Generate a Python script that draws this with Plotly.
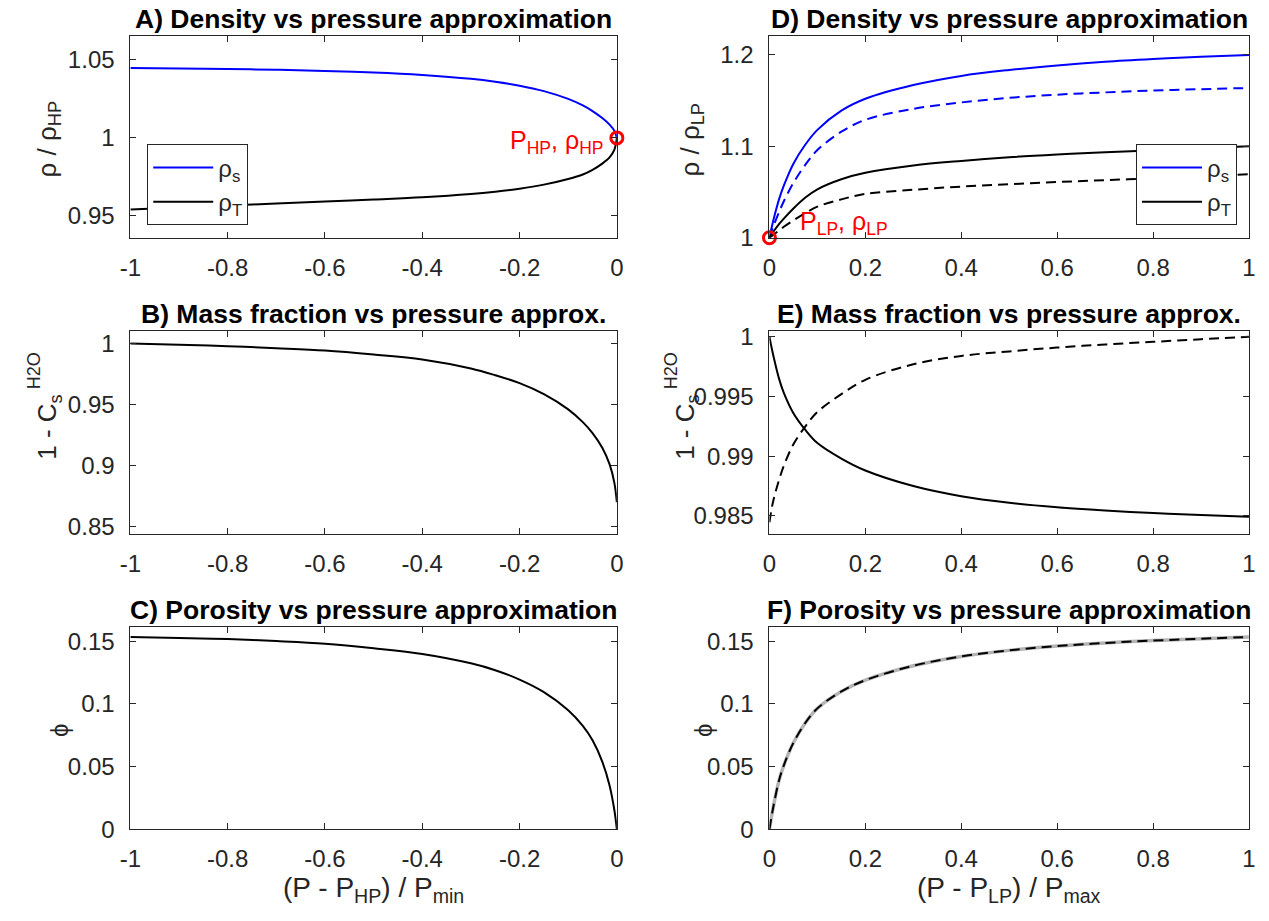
import plotly.graph_objects as go

W, H = 1269, 921
FONT = "Liberation Sans, Arial, sans-serif"
AX = "#262626"

# ---------------- data ----------------
left_x = [-1.0, -0.9, -0.8, -0.7, -0.6, -0.5, -0.4, -0.3, -0.25, -0.2, -0.15, -0.1,
          -0.07, -0.05, -0.03, -0.015, -0.005, 0.0]
A_rho_s = [1.0449, 1.0446, 1.0442, 1.0437, 1.0430, 1.0420, 1.0404, 1.0379, 1.0360,
           1.0335, 1.0300, 1.0250, 1.0208, 1.0172, 1.0127, 1.0085, 1.0045, 1.0]
A_rho_T = [0.9540, 0.9553, 0.9566, 0.9579, 0.9592, 0.9605, 0.9619, 0.9640, 0.9655,
           0.9674, 0.9700, 0.9736, 0.9765, 0.9795, 0.9835, 0.9875, 0.9925, 1.0]
B_mass = [1.0, 0.9990, 0.9978, 0.9962, 0.9943, 0.9910, 0.9869, 0.9795, 0.9740,
          0.9675, 0.9585, 0.9460, 0.9355, 0.9265, 0.9145, 0.9010, 0.8855, 0.8698]
C_phi = [0.1534, 0.1527, 0.1518, 0.1502, 0.1481, 0.1445, 0.1400, 0.1325, 0.1270,
         0.1195, 0.1095, 0.0950, 0.0825, 0.0710, 0.0540, 0.0350, 0.0150, 0.0]

right_x = [0.0, 0.005, 0.01, 0.02, 0.03, 0.05, 0.075, 0.1, 0.15, 0.2, 0.3, 0.4,
           0.5, 0.6, 0.7, 0.8, 0.9, 1.0]
D_rho_s = [1.0, 1.012, 1.023, 1.042, 1.057, 1.081, 1.102, 1.118, 1.139, 1.152, 1.167,
           1.177, 1.1835, 1.1885, 1.1925, 1.1955, 1.198, 1.2]
D_rho_s_approx = [1.0, 1.008, 1.015, 1.028, 1.040, 1.060, 1.080, 1.096, 1.116, 1.129,
                  1.141, 1.148, 1.153, 1.1565, 1.159, 1.161, 1.1625, 1.1638]
D_rho_T = [1.0, 1.004, 1.008, 1.015, 1.021, 1.032, 1.044, 1.053, 1.064, 1.071, 1.079,
           1.084, 1.088, 1.091, 1.0935, 1.0958, 1.098, 1.100]
D_rho_T_approx = [1.0, 1.002, 1.004, 1.008, 1.012, 1.019, 1.027, 1.034, 1.042, 1.048,
                  1.0525, 1.056, 1.0585, 1.061, 1.063, 1.065, 1.0672, 1.0695]
E_mass = [1.0, 0.9990, 0.9981, 0.9965, 0.9953, 0.9936, 0.9922, 0.9911, 0.9898,
          0.9888, 0.9875, 0.98665, 0.9861, 0.98572, 0.98545, 0.98524, 0.98507, 0.98492]
E_mass_approx = [0.98445, 0.9857, 0.9866, 0.9880, 0.9892, 0.9910, 0.9925, 0.9937,
                 0.9952, 0.9964, 0.9977, 0.9984, 0.99878, 0.9991, 0.99936, 0.99958,
                 0.9998, 1.0]
F_phi = [0.0, 0.0115, 0.0215, 0.0390, 0.0510, 0.0690, 0.0850, 0.0965, 0.1100, 0.1190,
         0.1305, 0.1380, 0.1428, 0.1462, 0.1487, 0.1506, 0.1521, 0.1534]

left_ticks = [-1, -0.8, -0.6, -0.4, -0.2, 0]
left_ticktext = ["-1", "-0.8", "-0.6", "-0.4", "-0.2", "0"]
right_ticks = [0, 0.2, 0.4, 0.6, 0.8, 1]
right_ticktext = ["0", "0.2", "0.4", "0.6", "0.8", "1"]

titles = ["A) Density vs pressure approximation",
          "B) Mass fraction vs pressure approx.",
          "C) Porosity vs pressure approximation",
          "D) Density vs pressure approximation",
          "E) Mass fraction vs pressure approx.",
          "F) Porosity vs pressure approximation"]

# ---------------- layout geometry ----------------
# positions are given in target-picture pixels and converted to paper fractions,
# compensating the small offset/scale measured for the rendered page
def px(x):
    return ((x - 2.5) / 0.995) / W

def py(y):
    return 1 - (y / 0.983 - 8.0) / H

col_x = [(123, 614), (768, 1252)]
row_y = [(36, 239), (333, 537), (631, 834)]

fig = go.Figure()

BLUE = "#0000ff"
DASH = "10px,6px"


def add(x, y, axis, color, dash=None, width=2, name=None, legend=None, showlegend=False, group=None):
    fig.add_trace(go.Scatter(
        x=x, y=y, mode="lines", xaxis="x" + axis, yaxis="y" + axis,
        line=dict(color=color, width=width, dash=dash, shape="spline", smoothing=1.0),
        name=name, showlegend=showlegend, legend=legend, legendgroup=group,
        hoverinfo="skip"))

# A
add(left_x, A_rho_s, "", BLUE, name="ρ<sub>s</sub>", legend="legend", showlegend=True, group="a1")
add(left_x, A_rho_T, "", "black", name="ρ<sub>T</sub>", legend="legend", showlegend=True, group="a2")
fig.add_trace(go.Scatter(x=[0], y=[1], mode="markers", xaxis="x", yaxis="y",
                         marker=dict(symbol="circle-open", size=12, color="red",
                                     line=dict(width=3, color="red")),
                         cliponaxis=False, showlegend=False, hoverinfo="skip"))
# B
add(left_x, B_mass, "2", "black")
# C
add(left_x, C_phi, "3", "black")
# D
add(right_x, D_rho_s, "4", BLUE, name="ρ<sub>s</sub>", legend="legend2", showlegend=True, group="d1")
add(right_x, D_rho_s_approx, "4", BLUE, dash=DASH)
add(right_x, D_rho_T, "4", "black", name="ρ<sub>T</sub>", legend="legend2", showlegend=True, group="d2")
add(right_x, D_rho_T_approx, "4", "black", dash=DASH)
fig.add_trace(go.Scatter(x=[0], y=[1], mode="markers", xaxis="x4", yaxis="y4",
                         marker=dict(symbol="circle-open", size=12, color="red",
                                     line=dict(width=3, color="red")),
                         cliponaxis=False, showlegend=False, hoverinfo="skip"))
# E
add(right_x, E_mass, "5", "black")
add(right_x, E_mass_approx, "5", "black", dash=DASH)
# F
add(right_x, F_phi, "6", "#b4b4b4", width=3.5)
add(right_x, F_phi, "6", "black", dash=DASH)

yranges = [[0.9359, 1.0654], [0.8437, 1.0101], [0, 0.1611],
           [1.0, 1.2207], [0.98348, 1.00047], [0, 0.1611]]
yticks = [([0.95, 1, 1.05], ["0.95", "1", "1.05"]),
          ([0.85, 0.9, 0.95, 1], ["0.85", "0.9", "0.95", "1"]),
          ([0, 0.05, 0.1, 0.15], ["0", "0.05", "0.1", "0.15"]),
          ([1, 1.1, 1.2], ["1", "1.1", "1.2"]),
          ([0.985, 0.99, 0.995, 1], ["0.985", "0.99", "0.995", "1"]),
          ([0, 0.05, 0.1, 0.15], ["0", "0.05", "0.1", "0.15"])]

layout = dict(width=W, height=H, autosize=False,
              margin=dict(l=0, r=0, t=0, b=0),
              paper_bgcolor="white", plot_bgcolor="white",
              font=dict(family=FONT, size=24, color=AX))

axis_common = dict(showline=True, linecolor=AX, linewidth=1, mirror="ticks",
                   ticks="inside", ticklen=6, tickcolor=AX, tickwidth=1,
                   showgrid=False, zeroline=False, fixedrange=True,
                   tickfont=dict(family=FONT, size=24, color=AX))

annotations = []
for i in range(6):
    col = i // 3
    row = i % 3
    xs = "" if i == 0 else str(i + 1)
    x0, x1 = col_x[col]
    y0, y1 = row_y[row]
    xt, xtt = (left_ticks, left_ticktext) if col == 0 else (right_ticks, right_ticktext)
    xr = [-1, 0] if col == 0 else [0, 1]
    layout["xaxis" + xs] = dict(axis_common, domain=[px(x0), px(x1)], range=xr,
                                tickvals=xt, ticktext=xtt, anchor="y" + xs,
                                ticklabelstandoff=8)
    layout["yaxis" + xs] = dict(axis_common, domain=[py(y1), py(y0)], range=yranges[i],
                                tickvals=yticks[i][0], ticktext=yticks[i][1],
                                anchor="x" + xs, ticklabelstandoff=10)
    annotations.append(dict(text="<b>" + titles[i] + "</b>", xref="paper", yref="paper",
                            x=px((x0 + x1) / 2), y=py(y0), xanchor="center", yanchor="bottom",
                            yshift=0, showarrow=False,
                            font=dict(family=FONT, size=26.5, color="black")))

def ann(text, x, y, size=24, angle=0, color=AX, xanchor="center", yanchor="middle"):
    annotations.append(dict(text=text, xref="paper", yref="paper", x=px(x), y=py(y),
                            xanchor=xanchor, yanchor=yanchor, textangle=angle,
                            showarrow=False, font=dict(family=FONT, size=size, color=color)))

# y-axis labels
ann("ρ / ρ<sub>HP</sub>", 40, 140, size=26, angle=-90)
ann("1 - C<sub>s</sub>", 41, 430, size=26, angle=-90)
ann("H2O", 26, 373, size=18, angle=-90)
ann("ϕ", 52, 735, size=24, angle=-90)
ann("ρ / ρ<sub>LP</sub>", 689, 140, size=26, angle=-90)
ann("1 - C<sub>s</sub>", 684, 430, size=26, angle=-90)
ann("H2O", 669, 373, size=18, angle=-90)
ann("ϕ", 702, 735, size=24, angle=-90)
# x-axis labels
ann("(P - P<sub>HP</sub>) / P<sub>min</sub>", (123 + 614) / 2, 895, size=28)
ann("(P - P<sub>LP</sub>) / P<sub>max</sub>", (768 + 1252) / 2, 895, size=28)
# red point labels
ann("P<sub>HP</sub>, ρ<sub>HP</sub>", 602, 143, size=25, color="red", xanchor="right")
ann("P<sub>LP</sub>, ρ<sub>LP</sub>", 797, 224, size=25, color="red", xanchor="left")

layout["annotations"] = annotations

leg_common = dict(bgcolor="white", bordercolor=AX, borderwidth=1,
                  font=dict(family=FONT, size=24, color=AX),
                  xanchor="left", yanchor="top", tracegroupgap=0,
                  itemwidth=60, orientation="v")
layout["legend"] = dict(leg_common, x=px(140), y=py(145))
layout["legend2"] = dict(leg_common, x=px(1138), y=py(145))

fig.update_layout(**layout)
fig.write_html("out.html")
